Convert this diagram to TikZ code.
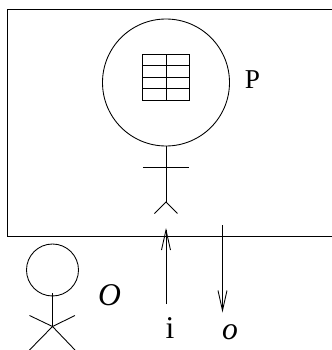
\documentclass[tikz,border=0pt]{standalone}
\usepackage{fontspec}
\setmainfont{Liberation Serif}
\usetikzlibrary{arrows.meta}

\begin{document}
\begin{tikzpicture}
  \tikzset{lbl/.style={inner sep=0pt,font=\fontsize{18}{20}\selectfont},
           ln/.style={line width=0.5pt},
           flow/.style={ln,-{Straight Barb[length=4mm,width=1.8mm]}}}
  \useasboundingbox (0, 0) rectangle (6.64, 7);

 % process box, open at the right
  \draw[line width=0.55pt] (6.64, 6.82) -- (0.14, 6.82) -- (0.14, 2.28) -- (6.64, 2.28);

 % agent P
  \draw[ln] (3.32, 5.35) circle (1.27);
  \draw[ln] (2.85, 5) rectangle (3.78, 5.92);
  \foreach \y in {5.23, 5.46, 5.69}
    \draw[ln] (2.85, \y) -- (3.78, \y);
  \draw[ln] (3.32, 5) -- (3.32, 5.92);
  \coordinate (neck) at (3.32, 4.08);
  \coordinate (hip) at (3.32, 2.96);
  \draw[ln] (neck) -- (hip);
  \draw[ln] (2.86, 3.65) -- (3.78, 3.65);
  \draw[ln] (3.09, 2.73) -- (hip) -- (3.55, 2.73);
  \node[lbl,font=\fontsize{15.5}{17}\selectfont] (agentlbl) at (5.05, 5.4) {P};

 % observer
  \draw[ln] (1.05, 1.6) circle (0.52);
  \coordinate (chin) at (1.05, 1.14);
  \coordinate (waist) at (1.05, 0.47);
  \draw[ln] (chin) -- (waist);
  \draw[ln] (0.59, 0.69) -- (waist) -- (1.5, 0.69);
  \draw[ln] (0.59, 0) -- (waist) -- (1.5, 0);
  \node[lbl,font=\fontsize{18}{20}\selectfont\itshape] (obslbl) at (2.19, 1.09) {O};

 % input and output
  \node[lbl] (inlbl) at (3.4, 0.44) {i};
  \node[lbl,font=\fontsize{18}{20}\selectfont\itshape] (outlbl) at (4.6, 0.36) {o};
  \coordinate (instart) at (3.32, 0.92);
  \coordinate (inend) at (3.32, 2.44);
  \coordinate (outstart) at (4.45, 2.5);
  \coordinate (outend) at (4.45, 0.75);
  \draw[flow] (instart) -- (inend);
  \draw[flow] (outstart) -- (outend);
\end{tikzpicture}
\end{document}
